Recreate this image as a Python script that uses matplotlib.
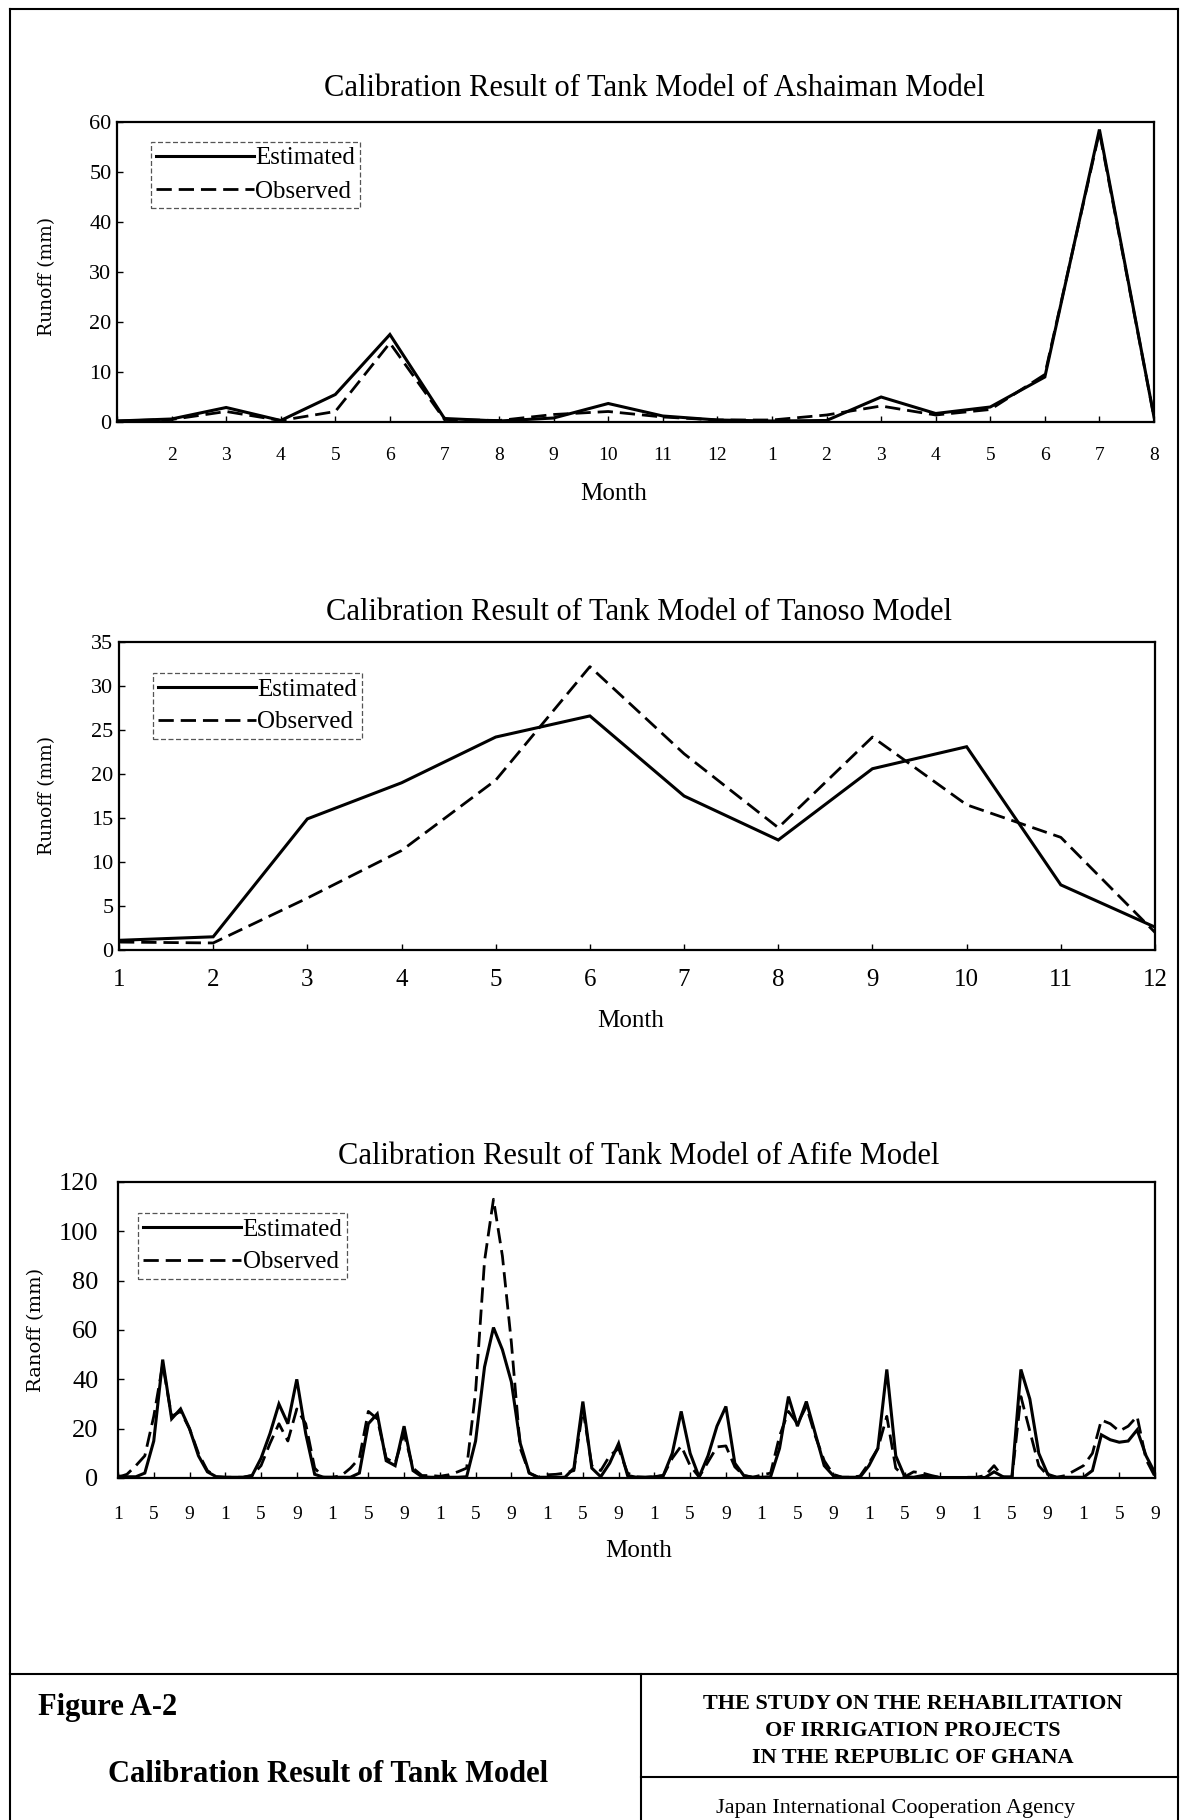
import matplotlib
matplotlib.use("Agg")
import matplotlib.pyplot as plt
import numpy as np
from matplotlib.lines import Line2D

plt.rcParams['font.family'] = ['Liberation Serif', 'DejaVu Serif']

# ---------------- data ----------------
ash_labels = ['', '2', '3', '4', '5', '6', '7', '8', '9', '10', '11', '12',
              '1', '2', '3', '4', '5', '6', '7', '8']
ash_est = [0.2, 0.6, 2.9, 0.3, 5.5, 17.5, 0.7, 0.2, 0.8, 3.7, 1.2, 0.4,
           0.2, 0.3, 5.0, 1.7, 3.0, 9.0, 58.5, 1.0]
ash_obs = [0.2, 0.5, 2.1, 0.3, 2.1, 15.8, 0.5, 0.3, 1.5, 2.1, 1.0, 0.4,
           0.4, 1.4, 3.2, 1.4, 2.5, 9.5, 58.0, 1.0]

tan_months = [1, 2, 3, 4, 5, 6, 7, 8, 9, 10, 11, 12]
tan_est = [1.1, 1.5, 14.9, 19.0, 24.2, 26.6, 17.5, 12.5, 20.6, 23.1, 7.4, 2.6]
tan_obs = [0.9, 0.8, 5.9, 11.3, 19.3, 32.2, 22.3, 13.9, 24.2, 16.5, 12.8, 2.0]

afi_est = [
    0.8, 0.5, 0.5, 2.0, 15, 48, 24, 28, 20, 9, 2.5, 0.5,        # yr 1
    0.3, 0.3, 0.3, 1.0, 8, 18, 30, 22, 40, 18, 1.5, 0.3,        # yr 2
    0.3, 0.3, 0.3, 2.0, 22, 26, 7, 5, 21, 3, 0.5, 0.3,          # yr 3
    0.3, 0.3, 0.3, 0.5, 15, 45, 61, 52, 39, 14, 2, 0.3,         # yr 4
    0.3, 0.3, 0.3, 4, 31, 4, 0.5, 6, 14, 1, 0.3, 0.3,           # yr 5
    0.5, 1.0, 10, 27, 10, 0.4, 9, 21, 29, 6, 1, 0.3,            # yr 6
    0.3, 0.5, 12, 33, 21, 31, 18, 5, 1, 0.3, 0.3, 0.3,          # yr 7
    5, 12, 44, 9, 0.5, 0.3, 1, 0.5, 0.2, 0.2, 0.2, 0.2,         # yr 8
    0.2, 0.2, 2.5, 0.5, 0.3, 44, 32, 10, 1.5, 0.3, 0.3, 0.3,    # yr 9
    0.3, 3, 17.5, 15.5, 14.5, 15, 19.5, 9, 2,                   # yr 10
]
afi_obs = [
    0.3, 1.5, 5, 9, 25, 46, 25, 27, 20, 10, 3, 0.5,
    0.3, 0.3, 0.3, 1.0, 5, 14, 22, 15, 28, 22, 4, 0.3,
    0.3, 1.0, 4, 8, 27, 24, 8, 6, 18, 4, 1, 1,
    0.7, 1.3, 2.5, 4, 35, 88, 113, 90, 55, 12, 2, 0.3,
    1.3, 1.5, 2, 3, 28, 5, 3, 9, 12, 2, 0.5, 0.3,
    0.5, 1.0, 8, 13, 5, 0.4, 6.5, 12.6, 13, 4.5, 1, 0.3,
    1.2, 2, 17, 27, 22, 29, 17, 7, 1.5, 0.3, 0.3, 0.8,
    6, 12, 25, 4, 0.5, 2.5, 2, 1, 0.2, 0.2, 0.2, 0.3,
    0.3, 1, 5, 0.3, 0.5, 33, 19, 5, 1, 0.3, 1, 3,
    5, 10, 23.5, 22, 19, 21, 25, 7.5, 0.5,
]
afi_labels = ['1', '5', '9'] * 10

# ---------------- figure ----------------
W, H = 1184, 1820
fig = plt.figure(figsize=(W / 100, H / 100), dpi=100)


def fx(x):
    return x / W


def fy(y):
    return 1 - y / H


def make_axes(L, R, T, B):
    return fig.add_axes([fx(L), fy(B), fx(R - L), (B - T) / H])


def style_axes(ax, xfs, yfs, xpad, ypad):
    for s in ax.spines.values():
        s.set_linewidth(1.6)
        s.set_color('black')
    ax.tick_params(direction='in', length=4, width=1, colors='black')
    ax.tick_params(axis='x', labelsize=xfs, pad=xpad)
    ax.tick_params(axis='y', labelsize=yfs, pad=ypad)


SOLID = dict(color='black', lw=2.2, solid_joinstyle='miter')
DASH = dict(color='black', lw=2.0, dashes=(5.5, 2.5))


def add_legend(ax, x0, y0):
    h = [Line2D([], [], **SOLID), Line2D([], [], **DASH)]
    leg = ax.legend(h, ['Estimated', 'Observed'], loc='upper left',
                    bbox_to_anchor=(fx(x0), fy(y0)), bbox_transform=fig.transFigure,
                    borderaxespad=0, fancybox=False, framealpha=1,
                    edgecolor='#555555', handlelength=3.9, handletextpad=0.08,
                    borderpad=0.2, labelspacing=0.42, fontsize=18)
    leg.get_frame().set_linestyle((0, (4, 2)))
    leg.get_frame().set_linewidth(0.9)


# ---- chart 1 : Ashaiman ----
ax1 = make_axes(117, 1154, 122, 422)
x1 = np.arange(len(ash_est))
ax1.plot(x1, ash_obs, **DASH)
ax1.plot(x1, ash_est, **SOLID)
ax1.set_xlim(0, len(ash_est) - 1)
ax1.set_ylim(0, 60)
ax1.set_yticks(range(0, 61, 10))
ax1.set_xticks(x1)
ax1.set_xticklabels(ash_labels)
style_axes(ax1, 14, 16, 18, 4)
add_legend(ax1, 151, 142)
fig.text(fx(654), fy(89), 'Calibration Result of Tank Model of Ashaiman Model',
         ha='center', va='center', fontsize=22)
fig.text(fx(614), fy(494), 'Month', ha='center', va='center', fontsize=18)
fig.text(fx(47), fy(276), 'Runoff (mm)', ha='center', va='center', rotation=90,
         fontsize=13.5, family=['DejaVu Serif'])

# ---- chart 2 : Tanoso ----
ax2 = make_axes(119, 1155, 642, 950)
ax2.plot(tan_months, tan_obs, **DASH)
ax2.plot(tan_months, tan_est, **SOLID)
ax2.set_xlim(1, 12)
ax2.set_ylim(0, 35)
ax2.set_yticks(range(0, 36, 5))
ax2.set_xticks(tan_months)
style_axes(ax2, 18, 16, 14, 4)
add_legend(ax2, 153, 673)
fig.text(fx(639), fy(613), 'Calibration Result of Tank Model of Tanoso Model',
         ha='center', va='center', fontsize=22)
fig.text(fx(631), fy(1021), 'Month', ha='center', va='center', fontsize=18)
fig.text(fx(47), fy(795), 'Runoff (mm)', ha='center', va='center', rotation=90,
         fontsize=13.5, family=['DejaVu Serif'])

# ---- chart 3 : Afife ----
ax3 = make_axes(118, 1155, 1182, 1478)
x3 = np.arange(len(afi_est))
ax3.plot(x3, afi_obs, **DASH)
ax3.plot(x3, afi_est, **SOLID)
ax3.set_xlim(0, len(afi_est) - 1)
ax3.set_ylim(0, 120)
ax3.set_yticks(range(0, 121, 20))
ax3.set_xticks(np.arange(0, len(afi_est), 4))
ax3.set_xticklabels(afi_labels)
style_axes(ax3, 14, 19, 20, 14)
add_legend(ax3, 138, 1213)
fig.text(fx(639), fy(1157), 'Calibration Result of Tank Model of Afife Model',
         ha='center', va='center', fontsize=22)
fig.text(fx(639), fy(1551), 'Month', ha='center', va='center', fontsize=18)
fig.text(fx(36), fy(1330), 'Ranoff (mm)', ha='center', va='center', rotation=90,
         fontsize=14, family=['DejaVu Serif'])

# ---------------- page frame & title block ----------------
def fline(x0, y0, x1_, y1_, lw=1.5):
    fig.add_artist(Line2D([fx(x0), fx(x1_)], [fy(y0), fy(y1_)], color='black', lw=lw))


fline(10, 9, 1178, 9)
fline(10, 9, 10, 1820)
fline(1178, 9, 1178, 1820)
fline(10, 1674, 1178, 1674)
fline(641, 1674, 641, 1820)
fline(641, 1777, 1178, 1777)

fig.text(fx(38), fy(1708), 'Figure A-2', ha='left', va='center',
         fontsize=22, fontweight='bold')
fig.text(fx(328), fy(1775), 'Calibration Result of Tank Model', ha='center', va='center',
         fontsize=22, fontweight='bold')
fig.text(fx(913), fy(1704), 'THE STUDY ON THE REHABILITATION', ha='center', va='center',
         fontsize=16, fontweight='bold')
fig.text(fx(913), fy(1731), 'OF IRRIGATION PROJECTS', ha='center', va='center',
         fontsize=16, fontweight='bold')
fig.text(fx(913), fy(1758), 'IN THE REPUBLIC OF GHANA', ha='center', va='center',
         fontsize=16, fontweight='bold')
fig.text(fx(896), fy(1808), 'Japan International Cooperation Agency', ha='center',
         va='center', fontsize=16)

fig.savefig('out.png', dpi=100)
